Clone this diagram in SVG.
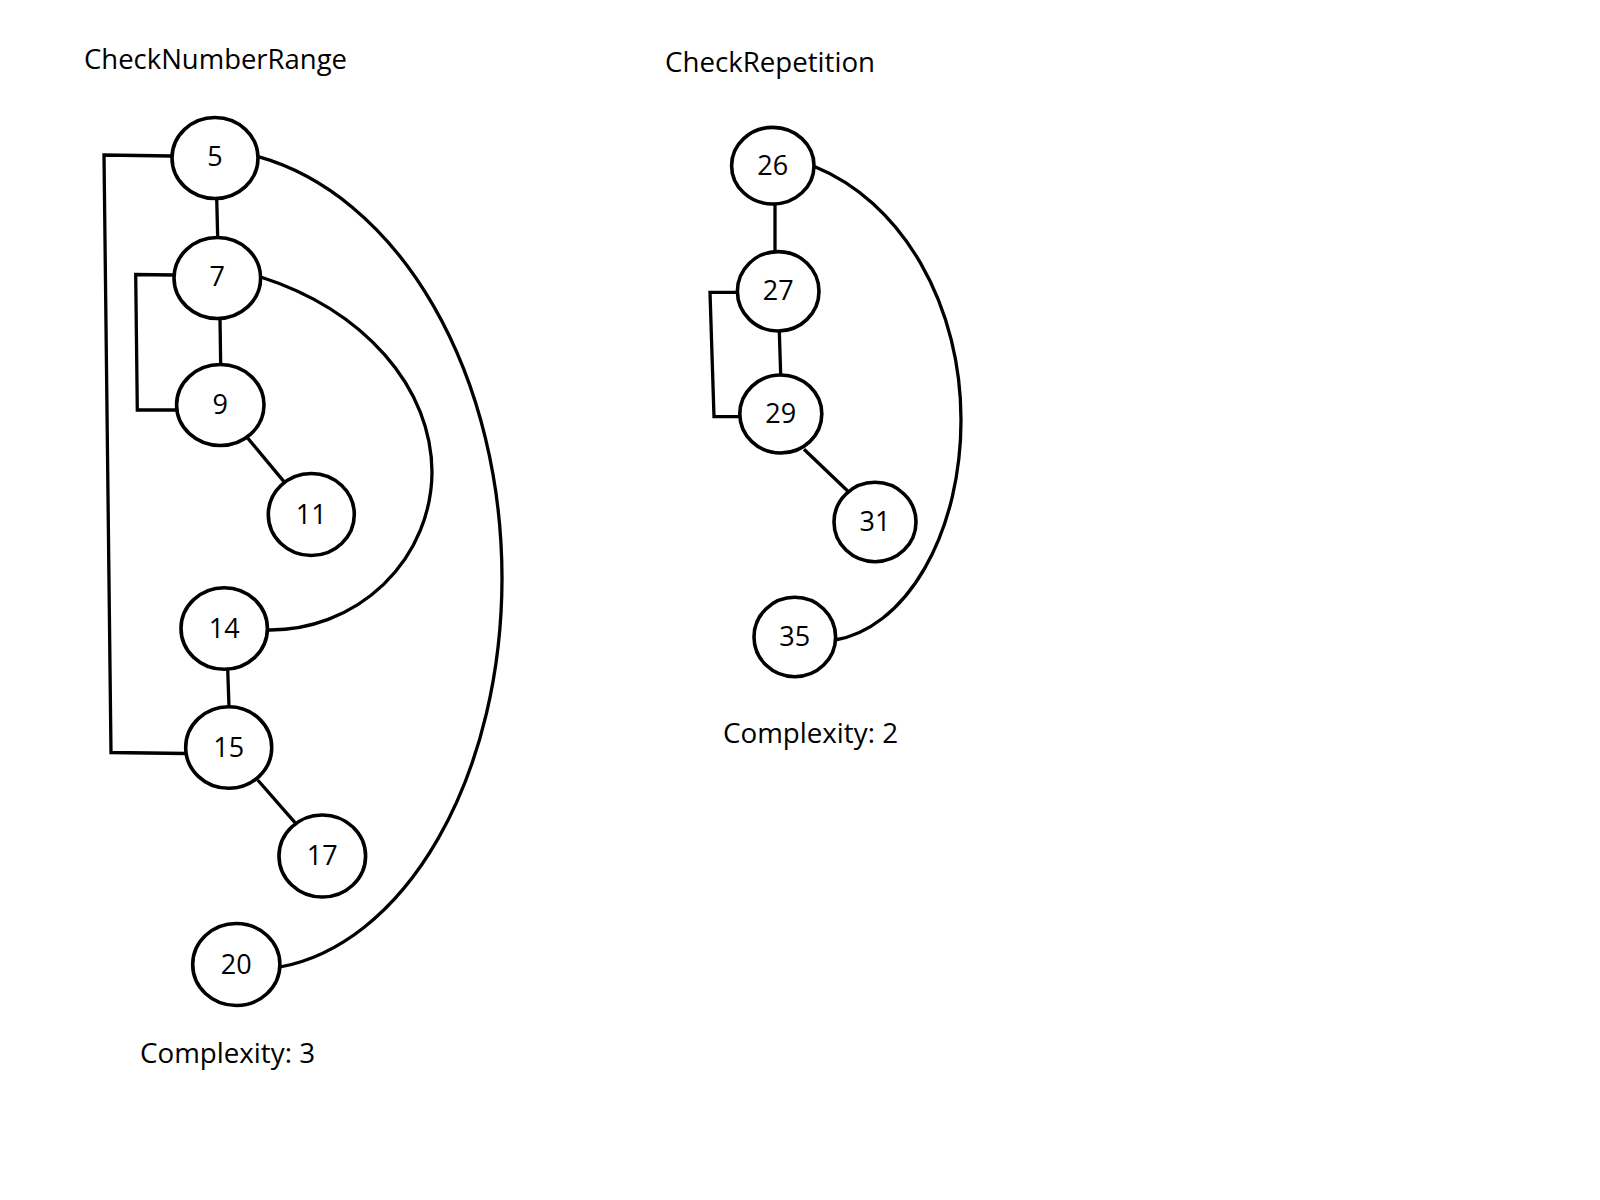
<svg xmlns="http://www.w3.org/2000/svg" width="1600" height="1200" viewBox="0 0 1600 1200">
<style>
  .bg { fill: #ffffff; }
  .edge { fill: none; stroke: #000; stroke-width: 3.3; stroke-linejoin: miter; }
  .node ellipse { fill: #ffffff; stroke: #000; stroke-width: 3.6; }
  .node text { font-family: "Open Sans", "Noto Sans", "Liberation Sans", sans-serif; font-size: 27px; fill: #000; text-anchor: middle; }
  .label { font-family: "Open Sans", "Noto Sans", "Liberation Sans", sans-serif; font-size: 27px; fill: #000; }
</style>
<rect class="bg" x="0" y="0" width="1600" height="1200"/>

<g id="labels">
  <text class="label" x="84" y="69" textLength="263" lengthAdjust="spacingAndGlyphs">CheckNumberRange</text>
  <text class="label" x="665" y="72" textLength="210" lengthAdjust="spacingAndGlyphs">CheckRepetition</text>
  <text class="label" x="140" y="1063" textLength="175" lengthAdjust="spacingAndGlyphs">Complexity: 3</text>
  <text class="label" x="723" y="743" textLength="175" lengthAdjust="spacingAndGlyphs">Complexity: 2</text>
</g>

<g id="connectors">
  <!-- CheckNumberRange -->
  <path class="edge" d="M216.7,198 L217.7,238"/>
  <path class="edge" d="M220,318 L220.7,365"/>
  <path class="edge" d="M246.9,437.1 L284.6,482.4"/>
  <path class="edge" d="M227.7,669 L229,707"/>
  <path class="edge" d="M257.7,780 L295,822.7"/>
  <path class="edge" d="M172,156 L104,155 L111,752.5 L186,753.5"/>
  <path class="edge" d="M174,275 L135.7,274.5 L137.3,410 L178,410"/>
  <path class="edge" d="M258.3,156.7 A302,430 0 0 1 502,579 A252,392 0 0 1 280,967"/>
  <path class="edge" d="M260,276.7 A282,213 0 0 1 432,472 A162,159 0 0 1 268.3,630"/>
  <!-- CheckRepetition -->
  <path class="edge" d="M775,204 L775,252"/>
  <path class="edge" d="M779.3,331 L780.7,375"/>
  <path class="edge" d="M804,449.3 L847.7,491"/>
  <path class="edge" d="M741,292.3 L710,292.3 L714,416.7 L741,416.7"/>
  <path class="edge" d="M815,166.7 A211,266 0 0 1 961,420 A141,221 0 0 1 835,640"/>
</g>

<g id="node-5" class="node"><ellipse cx="215" cy="158" rx="43" ry="40.5"/><text x="215" y="166">5</text></g>
<g id="node-7" class="node"><ellipse cx="217.3" cy="278" rx="43.3" ry="40.5"/><text x="217.3" y="286">7</text></g>
<g id="node-9" class="node"><ellipse cx="220.3" cy="405" rx="43.7" ry="40.5"/><text x="220.3" y="414">9</text></g>
<g id="node-11" class="node"><ellipse cx="311.3" cy="514.5" rx="43" ry="41"/><text x="311.3" y="524">11</text></g>
<g id="node-14" class="node"><ellipse cx="224.2" cy="628.5" rx="43.2" ry="40.8"/><text x="224.2" y="638">14</text></g>
<g id="node-15" class="node"><ellipse cx="228.7" cy="747.5" rx="43" ry="40.8"/><text x="228.7" y="757">15</text></g>
<g id="node-17" class="node"><ellipse cx="322.3" cy="856" rx="43.3" ry="41"/><text x="322.3" y="865">17</text></g>
<g id="node-20" class="node"><ellipse cx="236.3" cy="964.5" rx="43.6" ry="41"/><text x="236.3" y="974">20</text></g>

<g id="node-26" class="node"><ellipse cx="772.8" cy="165.7" rx="41.2" ry="38.3"/><text x="772.8" y="175">26</text></g>
<g id="node-27" class="node"><ellipse cx="778.2" cy="291.3" rx="40.8" ry="39.7"/><text x="778.2" y="300">27</text></g>
<g id="node-29" class="node"><ellipse cx="780.8" cy="414" rx="41" ry="39"/><text x="780.8" y="423">29</text></g>
<g id="node-31" class="node"><ellipse cx="875" cy="522" rx="41" ry="39.7"/><text x="875" y="531">31</text></g>
<g id="node-35" class="node"><ellipse cx="794.8" cy="637" rx="40.8" ry="39.7"/><text x="794.8" y="646">35</text></g>
</svg>
